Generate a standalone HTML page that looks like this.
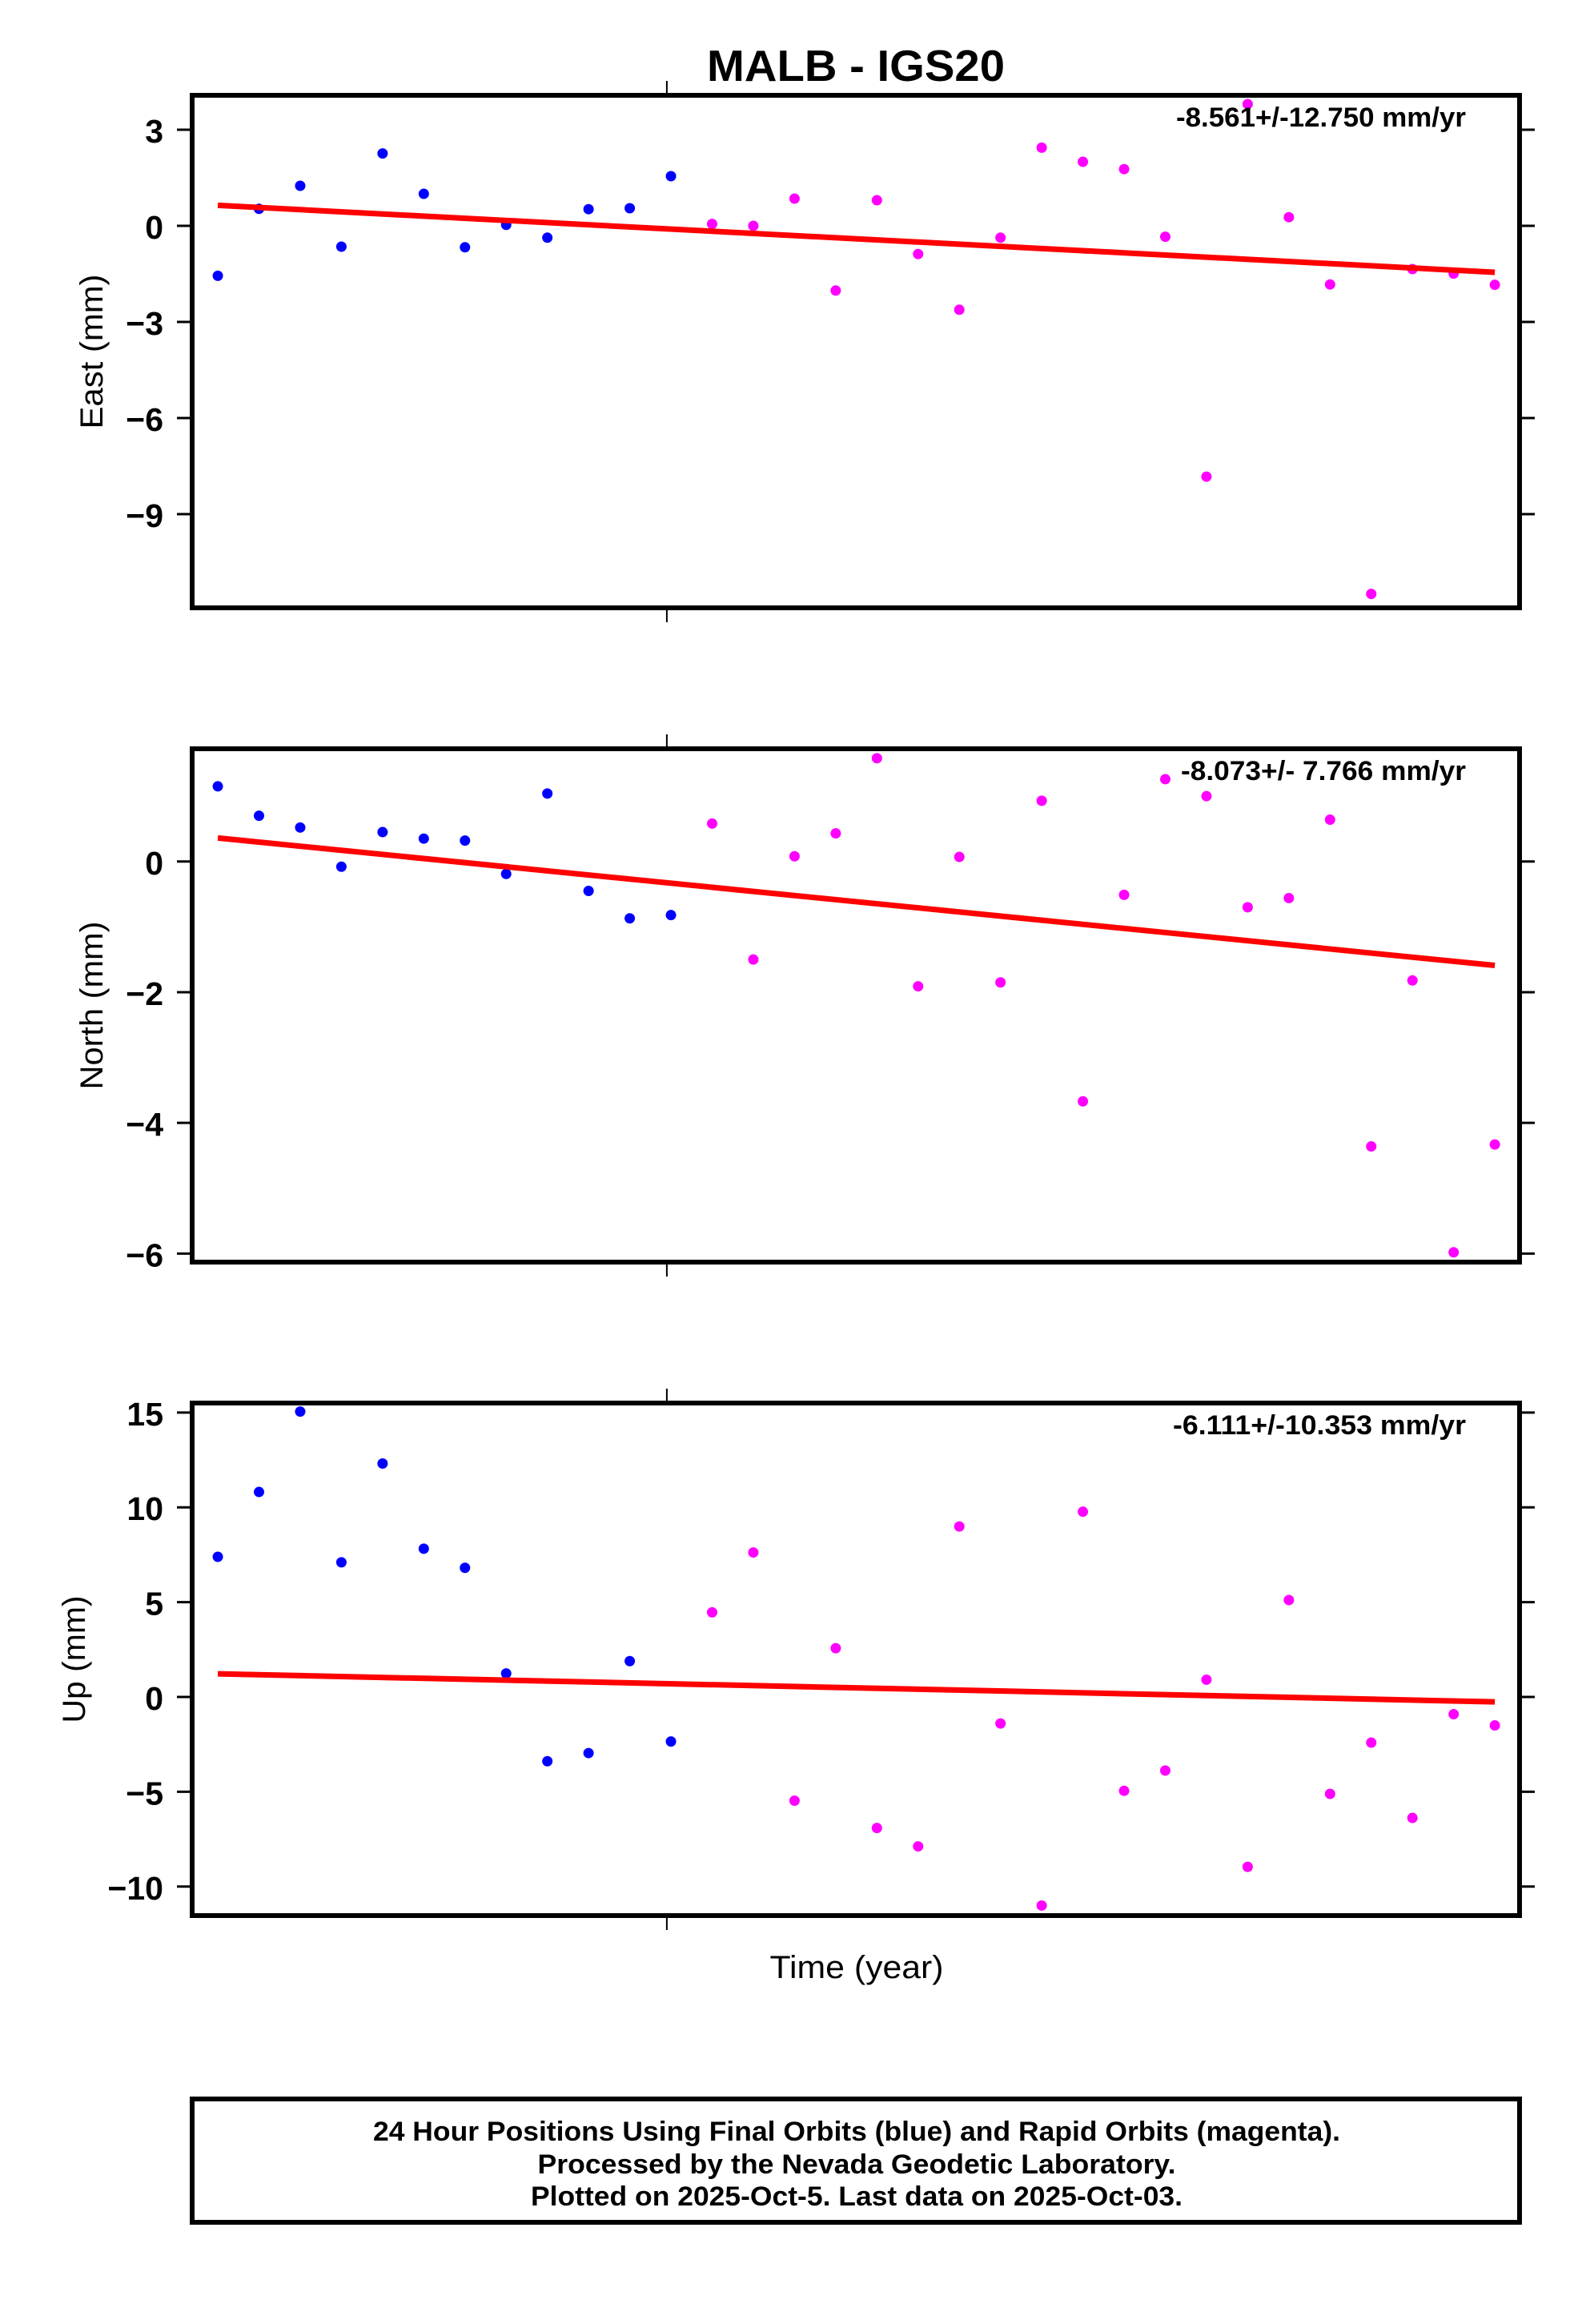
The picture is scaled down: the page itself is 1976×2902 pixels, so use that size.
<!DOCTYPE html>
<html><head><meta charset="utf-8"><style>
html,body{margin:0;padding:0;background:#fff}
svg{display:block}
text{font-family:"Liberation Sans",Arial,sans-serif}
</style></head><body>
<svg id="chart" width="1976" height="2902" viewBox="0 0 1976 2902" xmlns="http://www.w3.org/2000/svg">
<rect x="0" y="0" width="1976" height="2902" fill="#fff"/>
<text x="1069" y="101" font-size="55" font-weight="bold" text-anchor="middle" textLength="372" lengthAdjust="spacingAndGlyphs">MALB - IGS20</text>
<text x="1070" y="2470" font-size="40" text-anchor="middle" textLength="217" lengthAdjust="spacingAndGlyphs">Time (year)</text>
<rect x="240" y="2621" width="1658" height="154" fill="none" stroke="#000" stroke-width="6"/>
<text x="1070" y="2673" font-size="34" font-weight="bold" text-anchor="middle" textLength="1208" lengthAdjust="spacingAndGlyphs">24 Hour Positions Using Final Orbits (blue) and Rapid Orbits (magenta).</text>
<text x="1070" y="2714" font-size="34" font-weight="bold" text-anchor="middle" textLength="797" lengthAdjust="spacingAndGlyphs">Processed by the Nevada Geodetic Laboratory.</text>
<text x="1070" y="2754" font-size="34" font-weight="bold" text-anchor="middle" textLength="814" lengthAdjust="spacingAndGlyphs">Plotted on 2025-Oct-5. Last data on 2025-Oct-03.</text>
</svg>
<script>
// shared x data: day index of each sample
const days = [0,1,2,3,4,5,6,7,8,9,10,11,12,13,14,15,16,17,18,19,20,21,22,23,24,25,26,27,28,29,30,31];
const finalCount = 12; // first 12 samples are final orbits (blue)
const xTicks = [10.9];

const eastValues = [-1.56,0.53,1.25,-0.65,2.26,1.0,-0.67,0.03,-0.37,0.52,0.55,1.55,0.06,0.0,0.85,-2.02,0.8,-0.88,-2.62,-0.37,2.44,2.0,1.77,-0.34,-7.83,3.8,0.27,-1.83,-11.49,-1.35,-1.49,-1.84];
const eastTrend = [0.64,-1.45];
const eastTicks = [3,0,-3,-6,-9];
const eastTickLabels = ["3","0","\u22123","\u22126","\u22129"];
const eastRate = "-8.561+/-12.750 mm/yr";

const northValues = [1.15,0.70,0.52,-0.08,0.45,0.35,0.32,-0.19,1.04,-0.45,-0.87,-0.82,0.58,-1.50,0.08,0.43,1.58,-1.91,0.07,-1.85,0.93,-3.67,-0.51,1.26,1.0,-0.70,-0.56,0.64,-4.36,-1.82,-5.98,-4.33];
const northTrend = [0.36,-1.59];
const northTicks = [0,-2,-4,-6];
const northTickLabels = ["0","\u22122","\u22124","\u22126"];
const northRate = "-8.073+/- 7.766 mm/yr";

const upValues = [7.39,10.81,15.05,7.1,12.31,7.82,6.81,1.24,-3.39,-2.96,1.89,-2.35,4.46,7.62,-5.47,2.57,-6.91,-7.88,8.99,-1.4,-11.0,9.77,-4.95,-3.88,0.91,-8.96,5.11,-5.11,-2.41,-6.38,-0.91,-1.5];
const upTrend = [1.22,-0.26];
const upTicks = [15,10,5,0,-5,-10];
const upTickLabels = ["15","10","5","0","\u22125","\u221210"];
const upRate = "-6.111+/-10.353 mm/yr";

const NS = "http://www.w3.org/2000/svg";
const svg = document.getElementById('chart');
function mk(tag, attrs, parent){
  const e = document.createElementNS(NS, tag);
  for (const k in attrs) e.setAttribute(k, attrs[k]);
  (parent||svg).appendChild(e);
  return e;
}
const L = 240, R = 1898;
const xMin = -0.623, xMax = 31.6;
function xScale(d){ return L + (d - xMin) / (xMax - xMin) * (R - L); }

function panel(name, top, bottom, vMin, vMax, values, trend, ticks, tickLabels, rate, title, titleX, titleLen, rateLen){
  const g = mk('g', {});
  
  
  const y = v => bottom - (v - vMin) / (vMax - vMin) * (bottom - top);
  ticks.forEach((t, i) => {
    const ty = y(t);
    const tl = mk('line', {x1: 221, x2: L, y1: ty, y2: ty, stroke: '#000', 'stroke-width': 3}, g);
    
    
    const tr = mk('line', {x1: R, x2: 1917, y1: ty, y2: ty, stroke: '#000', 'stroke-width': 3}, g);
    
    
    const lb = mk('text', {x: 204, y: ty + 16, 'font-size': 41, 'font-weight': 'bold', 'text-anchor': 'end'}, g);
    lb.textContent = tickLabels[i];
    
    
  });
  xTicks.forEach(t => {
    const tx = xScale(t);
    const a = mk('line', {x1: tx, x2: tx, y1: top - 18, y2: top, stroke: '#000', 'stroke-width': 2}, g);
    
    
    const b = mk('line', {x1: tx, x2: tx, y1: bottom, y2: bottom + 18, stroke: '#000', 'stroke-width': 2}, g);
    
    
  });
  days.forEach((d, i) => {
    const c = mk('circle', {cx: xScale(d), cy: y(values[i]), r: 6.5, fill: i < finalCount ? '#0000ff' : '#ff00ff'}, g);
    
    
  });
  const tline = mk('line', {x1: xScale(days[0]), y1: y(trend[0]), x2: xScale(days[days.length-1]), y2: y(trend[1]), stroke: '#ff0000', 'stroke-width': 7}, g);
  
  
  const fr = mk('rect', {x: L, y: top, width: R - L, height: bottom - top, fill: 'none', stroke: '#000', 'stroke-width': 6}, g);
  
  
  const rt = mk('text', {x: 1831, y: top + 39, 'font-size': 34, 'font-weight': 'bold', 'text-anchor': 'end', textLength: rateLen, lengthAdjust: 'spacingAndGlyphs'}, g);
  rt.textContent = rate;
  
  
  const cy = (top + bottom) / 2;
  const yt = mk('text', {x: titleX, y: cy, 'font-size': 40, 'text-anchor': 'middle', transform: 'rotate(-90 ' + titleX + ' ' + cy + ')', textLength: titleLen, lengthAdjust: 'spacingAndGlyphs'}, g);
  yt.textContent = title;
  
  
}

panel('east', 119, 759, -11.925, 4.075, eastValues, eastTrend, eastTicks, eastTickLabels, eastRate, 'East (mm)', 128, 193, 362);
panel('north', 935, 1576, -6.13, 1.725, northValues, northTrend, northTicks, northTickLabels, northRate, 'North (mm)', 128, 210, 356);
panel('up', 1752, 2392, -11.53, 15.5, upValues, upTrend, upTicks, upTickLabels, upRate, 'Up (mm)', 106, 159, 366);
</script>
</body></html>
